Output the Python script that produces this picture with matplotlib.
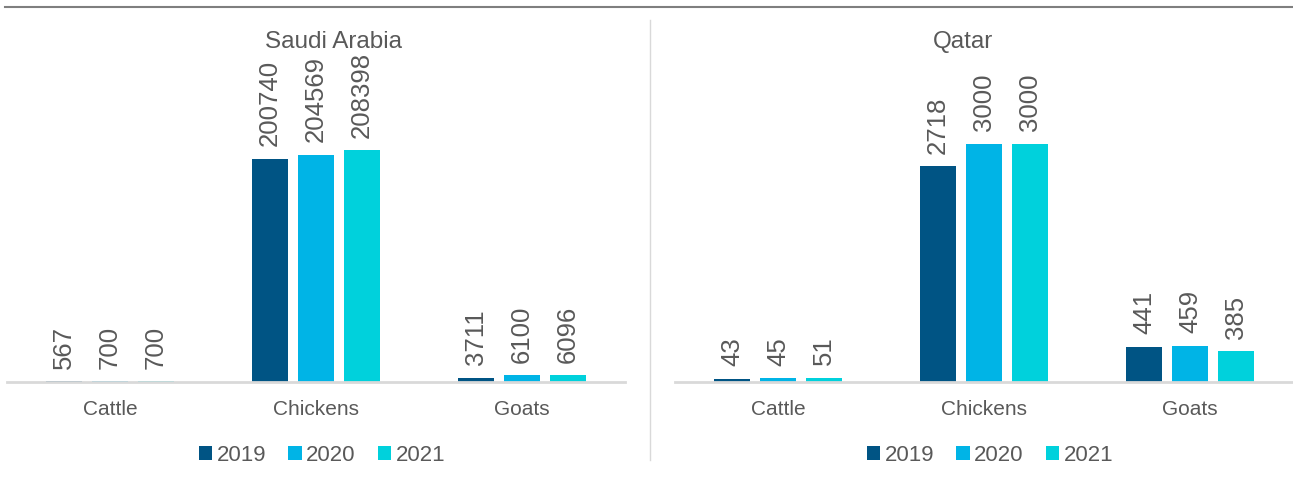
import numpy as np
import matplotlib
matplotlib.use("Agg")
from matplotlib import pyplot as plt
from matplotlib.lines import Line2D

# livestock counts by country and year
animals = ["Cattle", "Chickens", "Goats"]
years = ["2019", "2020", "2021"]
saudi_2019 = [567, 200740, 3711]
saudi_2020 = [700, 204569, 6100]
saudi_2021 = [700, 208398, 6096]
qatar_2019 = [43, 2718, 441]
qatar_2020 = [45, 3000, 459]
qatar_2021 = [51, 3000, 385]

colors = ["#005484", "#00B4E6", "#00D1DC"]
grey = "#595959"

plt.rcParams["font.family"] = ["Liberation Sans", "DejaVu Sans"]

fig = plt.figure(figsize=(12.93, 4.92), dpi=100)

# title, series, y max, axes left edge, title x (axes fraction)
panels = [
    ("Saudi Arabia", [saudi_2019, saudi_2020, saudi_2021], 250000, 7 / 1293, 0.529),
    ("Qatar", [qatar_2019, qatar_2020, qatar_2021], 3500, 675 / 1293, 0.466),
]

x = np.arange(len(animals))
width = 0.175
step = 0.223

for title, series, ymax, left, tx in panels:
    ax = fig.add_axes([left, 110 / 492, 618 / 1293, 278 / 492])
    for i, vals in enumerate(series):
        bars = ax.bar(x + (i - 1) * step, vals, width, color=colors[i], label=years[i])
        for b, v in zip(bars, vals):
            ax.annotate(str(v), (b.get_x() + b.get_width() / 2, b.get_height()),
                        xytext=(0, 9), textcoords="offset points",
                        rotation=90, ha="center", va="bottom",
                        fontsize=18.5, color=grey)
    ax.set_xlim(-0.5, 2.5)
    ax.set_ylim(0, ymax)
    ax.set_yticks([])
    ax.set_xticks(x)
    ax.set_xticklabels(animals, fontsize=15, color=grey)
    ax.tick_params(axis="x", length=0, pad=13)
    for s in ["top", "right", "left"]:
        ax.spines[s].set_visible(False)
    ax.spines["bottom"].set_color("#d9d9d9")
    ax.spines["bottom"].set_linewidth(2)
    ax.set_title(title, fontsize=17.5, color=grey, pad=40, x=tx)
    ax.legend(loc="upper center", bbox_to_anchor=(0.51, -0.155), ncol=3,
              frameon=False, fontsize=16, handlelength=0.6, handleheight=0.6,
              handletextpad=0.2, columnspacing=1.0, labelcolor=grey)

# frame lines around the two panels
fig.add_artist(Line2D([5 / 1293, 1], [1 - 7 / 492, 1 - 7 / 492], color="#7f7f7f", lw=1.5))
fig.add_artist(Line2D([650 / 1293, 650 / 1293], [1 - 20 / 492, 1 - 460 / 492], color="#d9d9d9", lw=1))

fig.savefig("out.png", dpi=100)
